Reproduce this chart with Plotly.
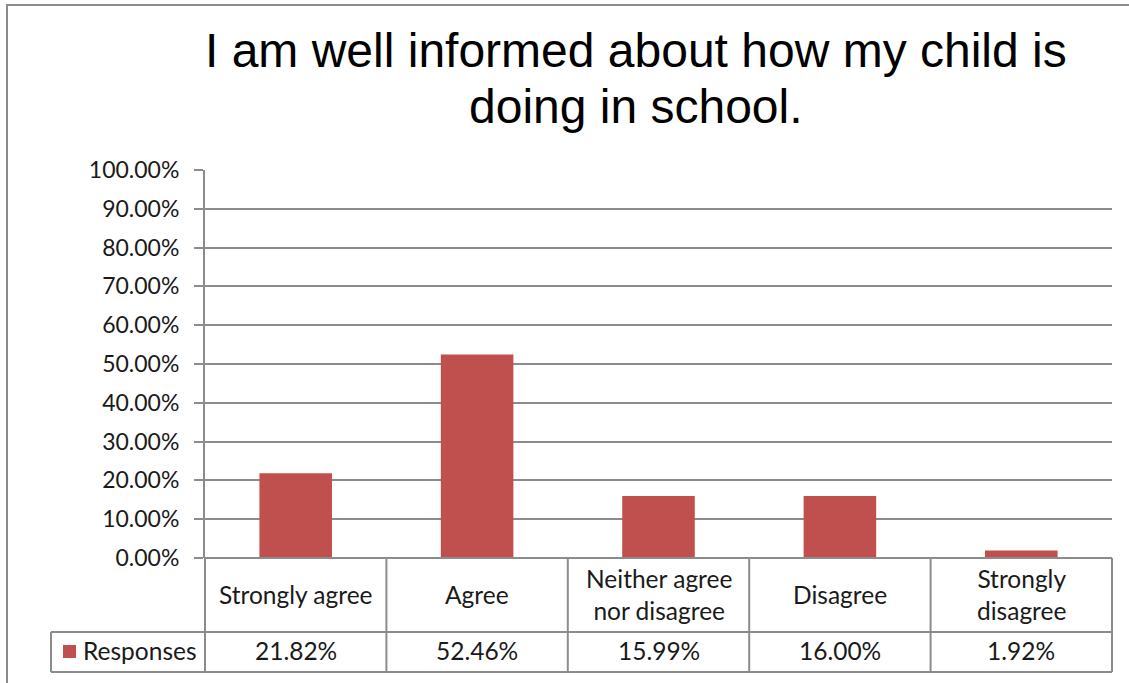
import plotly.graph_objects as go

# ---- data ----
categories = ["Strongly agree", "Agree", "Neither agree<br>nor disagree", "Disagree", "Strongly<br>disagree"]
responses = [21.82, 52.46, 15.99, 16.00, 1.92]
series_name = "Responses"
title_lines = ["I am well informed about how my child is", "doing in school."]
y_ticks = [0, 10, 20, 30, 40, 50, 60, 70, 80, 90, 100]

# ---- layout geometry (pixels) ----
W, H = 1129, 683
PL, PR, PT, PB = 205, 1112, 170, 558   # plot area edges
BAR = "#C0504D"
LINE = "#8c8c8c"
TXT = "#1a1a1a"
CAT_FONT = dict(family="Lato", size=24.5, color=TXT)


def px_x(px):
    return (px - PL) / (PR - PL)


def px_y(py):
    return (PB - py) / (PB - PT)


xs = list(range(len(categories)))

fig = go.Figure()
fig.add_trace(go.Bar(x=xs, y=responses, name=series_name, marker=dict(color=BAR, line=dict(width=0)),
                     showlegend=False, hoverinfo="y"))

shapes = []
row1_y = px_y(632)
row2_y = px_y(672)
leg_x = px_x(51)
# outer chart border
shapes.append(dict(type="rect", xref="paper", yref="paper", x0=px_x(7), x1=px_x(1140), y0=px_y(700), y1=px_y(5),
                   line=dict(color=LINE, width=2), fillcolor="rgba(0,0,0,0)", layer="below"))
# table lines
shapes.append(dict(type="line", xref="paper", yref="paper", x0=0, x1=1, y0=0, y1=0, line=dict(color=LINE, width=2)))
shapes.append(dict(type="line", xref="paper", yref="paper", x0=leg_x, x1=1, y0=row1_y, y1=row1_y, line=dict(color=LINE, width=2)))
shapes.append(dict(type="line", xref="paper", yref="paper", x0=leg_x, x1=1, y0=row2_y, y1=row2_y, line=dict(color=LINE, width=2)))
shapes.append(dict(type="line", xref="paper", yref="paper", x0=leg_x, x1=leg_x, y0=row1_y, y1=row2_y, line=dict(color=LINE, width=2)))
n = len(categories)
for i in range(n + 1):
    shapes.append(dict(type="line", xref="paper", yref="paper", x0=i / n, x1=i / n, y0=0, y1=row2_y,
                       line=dict(color=LINE, width=2)))
# legend key square
shapes.append(dict(type="rect", xref="paper", yref="paper", x0=px_x(63), x1=px_x(76), y0=px_y(658), y1=px_y(645),
                   line=dict(width=0), fillcolor=BAR))

annotations = []
annotations.append(dict(text=title_lines[0], xref="paper", yref="paper", x=px_x(636), y=px_y(50),
                        xanchor="center", yanchor="middle", showarrow=False,
                        font=dict(family="Liberation Sans", size=48, color="#000000")))
annotations.append(dict(text=title_lines[1], xref="paper", yref="paper", x=px_x(636), y=px_y(107),
                        xanchor="center", yanchor="middle", showarrow=False,
                        font=dict(family="Liberation Sans", size=48, color="#000000")))
for i, c in enumerate(categories):
    annotations.append(dict(text=c, xref="x", yref="paper", x=i, y=px_y(594), xanchor="center", yanchor="middle",
                            showarrow=False, font=CAT_FONT))
    annotations.append(dict(text=f"{responses[i]:.2f}%", xref="x", yref="paper", x=i, y=px_y(650),
                            xanchor="center", yanchor="middle", showarrow=False, font=CAT_FONT))
annotations.append(dict(text=series_name, xref="paper", yref="paper", x=px_x(81), y=px_y(650),
                        xanchor="left", yanchor="middle", showarrow=False, font=CAT_FONT))

fig.update_layout(
    width=W, height=H,
    margin=dict(l=PL, r=W - PR, t=PT, b=H - PB, pad=0),
    paper_bgcolor="white", plot_bgcolor="white",
    bargap=0.6,
    shapes=shapes, annotations=annotations,
    xaxis=dict(range=[-0.5, n - 0.5], showticklabels=False, ticks="", showgrid=False, zeroline=False,
               showline=False, fixedrange=True),
    yaxis=dict(range=[0, 100], tickvals=y_ticks, ticktext=[f"{v:.2f}%" for v in y_ticks],
               showgrid=True, gridcolor=LINE, gridwidth=2, zeroline=False,
               showline=True, linecolor=LINE, linewidth=2,
               ticks="outside", ticklen=9, tickcolor=LINE, tickwidth=2, ticklabelstandoff=10,
               tickfont=dict(family="Lato", size=23, color=TXT), fixedrange=True),
)

fig.write_html("out.html", config={"displayModeBar": False},
               post_script="document.body.style.margin='0';document.body.style.overflow='hidden';")
